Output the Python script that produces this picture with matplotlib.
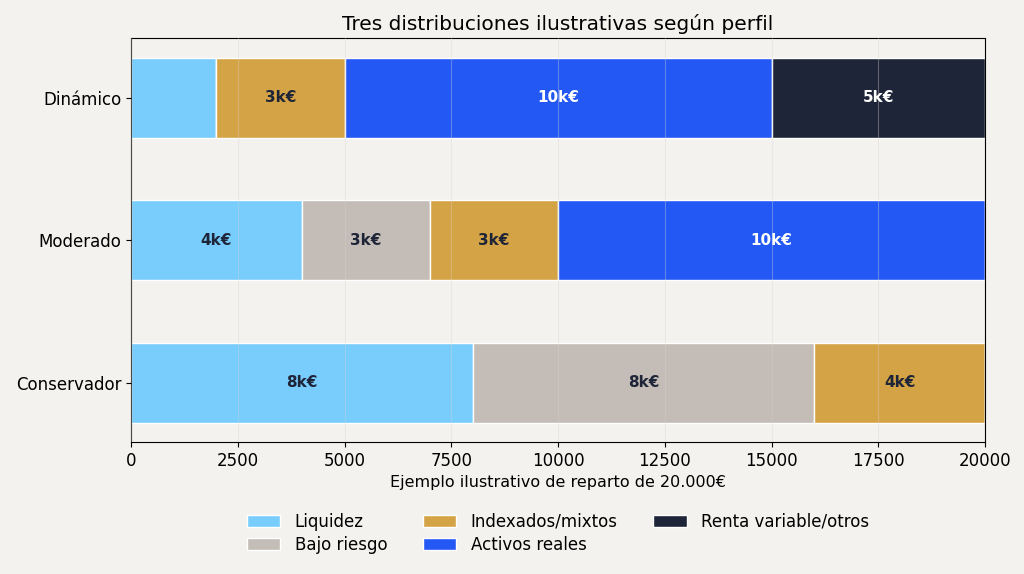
import numpy as np
import matplotlib.pyplot as plt

perfiles = ["Conservador", "Moderado", "Dinámico"]
series = ["Liquidez", "Bajo riesgo", "Indexados/mixtos", "Activos reales", "Renta variable/otros"]
liquidez = [8000, 4000, 2000]
bajo_riesgo = [8000, 3000, 0]
indexados = [4000, 3000, 3000]
activos_reales = [0, 10000, 10000]
renta_variable = [0, 0, 5000]
valores = [liquidez, bajo_riesgo, indexados, activos_reales, renta_variable]

colores = ["#78cdfd", "#c4bcb6", "#d4a345", "#2358f5", "#1f2538"]
texto_colores = ["#1f2538", "#1f2538", "#1f2538", "white", "white"]

fondo = "#f4f2ef"
fig, ax = plt.subplots(figsize=(10.24, 5.74), dpi=100)
fig.patch.set_facecolor(fondo)
ax.set_facecolor(fondo)

y = np.arange(len(perfiles))
izquierda = np.zeros(len(perfiles))
for nombre, vals, col, tcol in zip(series, valores, colores, texto_colores):
    vals = np.array(vals, dtype=float)
    ax.barh(y, vals, left=izquierda, height=0.56, color=col, edgecolor="white",
            linewidth=1, label=nombre, zorder=2)
    for yi, v, l in zip(y, vals, izquierda):
        if v >= 3000:
            ax.text(l + v / 2, yi, f"{v / 1000:.0f}k€", ha="center", va="center",
                    fontsize=11, fontweight="bold", color=tcol, zorder=4)
    izquierda += vals

ax.set_xlim(0, 20000)
ax.set_ylim(-0.415, 2.42)
ax.set_yticks(y)
ax.set_yticklabels(perfiles, fontsize=12)
ax.set_xticks(np.arange(0, 20001, 2500))
ax.tick_params(axis="x", labelsize=12)
ax.grid(axis="x", color="#d8d5d0", linewidth=0.8, alpha=0.35, zorder=3)
ax.set_axisbelow(False)
ax.set_xlabel("Ejemplo ilustrativo de reparto de 20.000€", fontsize=11.5)
ax.set_title("Tres distribuciones ilustrativas según perfil", fontsize=14.5)

ax.legend(loc="upper center", bbox_to_anchor=(0.5, -0.138), ncol=3, frameon=False,
          fontsize=12, handlelength=2.0, handleheight=0.76, handletextpad=0.85,
          columnspacing=2.15, labelspacing=0.3)

plt.subplots_adjust(left=0.128, right=0.962, top=0.934, bottom=0.23)
plt.savefig("out.png", dpi=100, facecolor=fondo)
